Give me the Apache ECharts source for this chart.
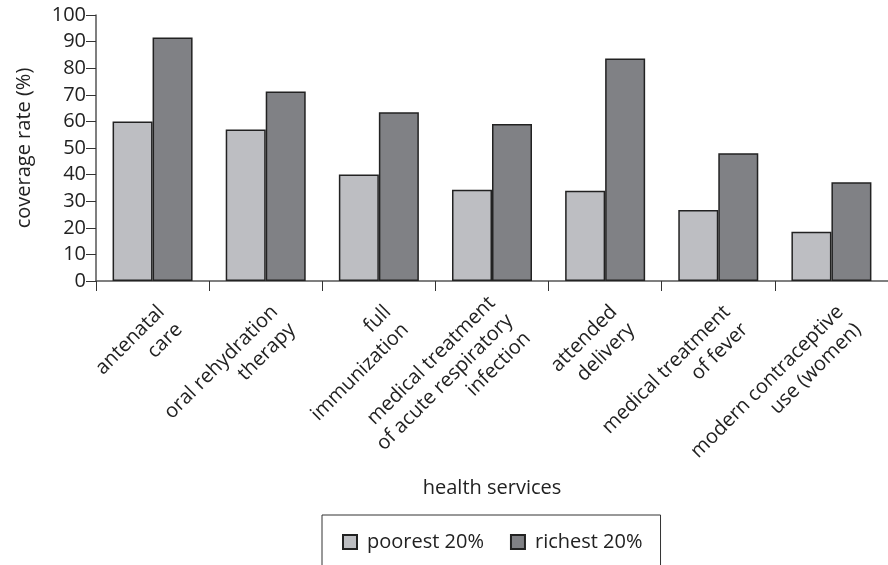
<!DOCTYPE html>
<html><head><meta charset="utf-8">
<script src="https://cdn.jsdelivr.net/npm/echarts@6/dist/echarts.min.js"></script>
<style>html,body{margin:0;padding:0;background:#fff}#c{width:888px;height:565px}</style>
</head><body><div id="c"></div>
<script>
const categories = [
  "antenatal\ncare",
  "oral rehydration\ntherapy",
  "full\nimmunization",
  "medical treatment\nof acute respiratory\ninfection",
  "attended\ndelivery",
  "medical treatment\nof fever",
  "modern contraceptive\nuse (women)"
];
const poorest = [60, 57, 40, 34.3, 33.9, 26.7, 18.5];
const richest = [91.5, 71.2, 63.4, 59, 83.6, 48, 37.1];
const seriesNames = ["poorest 20%", "richest 20%"];
const yTicks = [0, 100, 10];

const FONT = "Open Sans";
const FS = 20;
const chart = echarts.init(document.getElementById('c'));
chart.setOption({
  animation: false,
  textStyle: {fontFamily: FONT},
  grid: {left: 96, right: -2, top: 15, bottom: 284, containLabel: false},
  legend: {
    data: seriesNames,
    left: 322, top: 515,
    padding: [17, 18, 40, 20],
    borderColor: '#333', borderWidth: 1,
    itemWidth: 14, itemHeight: 14, itemGap: 26,
    icon: 'rect',
    textStyle: {fontFamily: FONT, fontSize: FS, color: '#222', padding: [0, 0, 0, 5]}
  },
  xAxis: {
    type: 'category',
    data: categories,
    name: 'health services',
    nameLocation: 'middle',
    nameGap: 197,
    nameMoveOverlap: false,
    nameTextStyle: {fontFamily: FONT, fontSize: FS, color: '#222'},
    axisLine: {lineStyle: {color: '#555', width: 1.5}},
    axisTick: {show: true, length: 10, lineStyle: {color: '#333'}},
    axisLabel: {rotate: 45, margin: 19, fontFamily: FONT, fontSize: FS, color: '#222',
      lineHeight: 25, interval: 0, verticalAlign: 'middle',
      formatter: function (v) { return '\n\n' + v; }}
  },
  yAxis: {
    type: 'value',
    min: yTicks[0], max: yTicks[1], interval: yTicks[2],
    name: 'coverage rate (%)',
    nameLocation: 'middle',
    nameGap: 62,
    nameMoveOverlap: false,
    nameTextStyle: {fontFamily: FONT, fontSize: FS, color: '#222'},
    axisLine: {show: true, lineStyle: {color: '#555', width: 1.5}},
    axisTick: {show: true, length: 10, lineStyle: {color: '#333'}},
    axisLabel: {margin: 10, fontFamily: FONT, fontSize: FS, color: '#222'},
    splitLine: {show: false}
  },
  series: [
    {name: seriesNames[0], type: 'bar', data: poorest, barWidth: 40, barGap: '0%',
     itemStyle: {color: '#bdbec2', borderColor: '#222', borderWidth: 1.5}},
    {name: seriesNames[1], type: 'bar', data: richest, barWidth: 40, barGap: '0%',
     itemStyle: {color: '#808185', borderColor: '#222', borderWidth: 1.5}}
  ]
});
</script></body></html>
